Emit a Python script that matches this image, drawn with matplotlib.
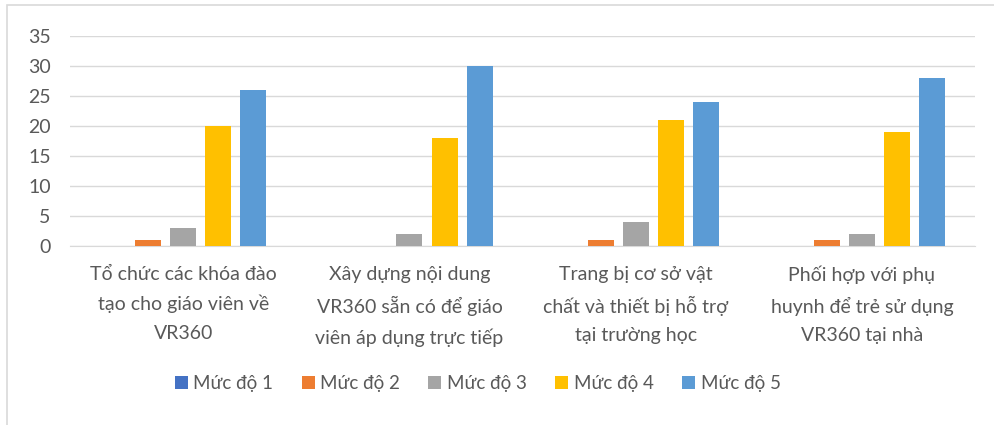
import numpy as np
import matplotlib.pyplot as plt
from matplotlib.patches import Rectangle

categories = [
    "Tổ chức các khóa đào\ntạo cho giáo viên về\nVR360",
    "Xây dựng nội dung\nVR360 sẵn có để giáo\nviên áp dụng trực tiếp",
    "Trang bị cơ sở vật\nchất và thiết bị hỗ trợ\ntại trường học",
    "Phối hợp với phụ\nhuynh để trẻ sử dụng\nVR360 tại nhà",
]
series_names = ["Mức độ 1", "Mức độ 2", "Mức độ 3", "Mức độ 4", "Mức độ 5"]
muc_do_1 = [0, 0, 0, 0]
muc_do_2 = [1, 0, 1, 1]
muc_do_3 = [3, 2, 4, 2]
muc_do_4 = [20, 18, 21, 19]
muc_do_5 = [26, 30, 24, 28]
colors = ["#4472C4", "#ED7D31", "#A5A5A5", "#FFC000", "#5B9BD5"]

plt.rcParams['font.family'] = ['Lato', 'DejaVu Sans']

fig = plt.figure(figsize=(9.95, 4.25), dpi=100)
ax = fig.add_axes([0.0704, 0.421, 0.9096, 0.494])

# chart frame
fig.patches.append(Rectangle((0.007, -0.05), 1.1, 1.038, transform=fig.transFigure,
                             fill=False, edgecolor="#D9D9D9", linewidth=1.2))

x = np.arange(len(categories))
step = 0.155
width = 0.115
all_series = [muc_do_1, muc_do_2, muc_do_3, muc_do_4, muc_do_5]
for i, (name, vals) in enumerate(zip(series_names, all_series)):
    ax.bar(x + (i - 2) * step, vals, width, color=colors[i], label=name, zorder=3)

ax.set_xlim(-0.5, 3.5)
ax.set_ylim(0, 35)
ax.set_yticks(range(0, 36, 5))
ax.grid(axis='y', color="#D9D9D9", linewidth=1, zorder=0)
for s in ["top", "right", "left"]:
    ax.spines[s].set_visible(False)
ax.spines["bottom"].set_color("#D9D9D9")
ax.tick_params(axis='both', length=0, colors="#595959")
ax.tick_params(axis='y', pad=14, labelsize=14)
ax.set_xticks(x)
ax.set_xticklabels(categories, fontsize=14, linespacing=1.8)
ax.tick_params(axis='x', pad=14)

fig.legend(loc="center", bbox_to_anchor=(0.48, 0.098), ncol=5, frameon=False,
           fontsize=13.5, handlelength=0.7, handleheight=0.7, handletextpad=0.3,
           columnspacing=1.5, labelcolor="#595959")

fig.savefig("out.png", dpi=100)
